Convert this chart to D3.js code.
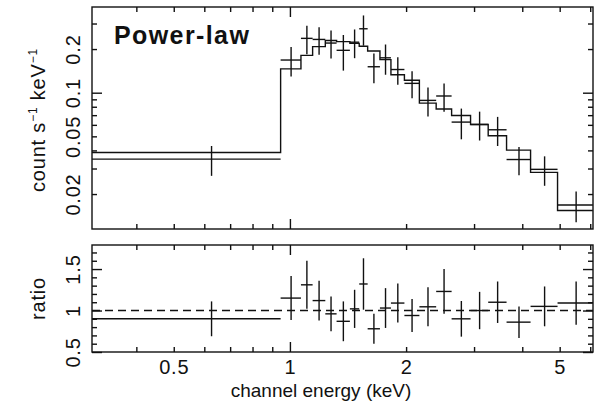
<!DOCTYPE html>
<html>
<head>
<meta charset="utf-8">
<script src="https://cdnjs.cloudflare.com/ajax/libs/d3/7.8.5/d3.min.js"></script>
<style>
  body { margin: 0; background: #fff; }
  text { font-family: "Liberation Sans", Arial, Helvetica, sans-serif; fill: #111; }
</style>
</head>
<body>
<div id="chart"></div>
<script>
// bin edges in keV (20 channels)
var eEdges = [0.307, 0.946, 1.068, 1.145, 1.235, 1.321, 1.430, 1.512, 1.590, 1.711, 1.827,
              1.980, 2.165, 2.393, 2.624, 2.938, 3.264, 3.642, 4.203, 4.937, 6.095];
// count s^-1 keV^-1
var rate    = [0.0348, 0.168, 0.237, 0.233, 0.220, 0.196, 0.223, 0.276, 0.151, 0.174,
               0.1445, 0.116, 0.0885, 0.0949, 0.0627, 0.0604, 0.0555, 0.0346, 0.0296, 0.0168];
var rateErr = [0.0081, 0.0387, 0.0525, 0.050, 0.048, 0.054, 0.050, 0.065, 0.035, 0.041,
               0.031, 0.0246, 0.020, 0.021, 0.015, 0.0136, 0.0126, 0.0076, 0.0068, 0.0040];
var model   = [0.0387, 0.146, 0.181, 0.208, 0.229, 0.225, 0.219, 0.209, 0.194, 0.169,
               0.133, 0.122, 0.0847, 0.0772, 0.0697, 0.0604, 0.0505, 0.0402, 0.0282, 0.0154];
var ratio    = [0.90, 1.15, 1.31, 1.12, 0.96, 0.87, 1.02, 1.32, 0.78, 1.03,
                1.09, 0.94, 1.045, 1.23, 0.90, 1.00, 1.10, 0.86, 1.05, 1.09];
var ratioErr = [0.21, 0.265, 0.29, 0.24, 0.21, 0.24, 0.23, 0.31, 0.18, 0.24,
                0.235, 0.20, 0.235, 0.27, 0.215, 0.225, 0.25, 0.19, 0.24, 0.26];

var xLabels = [0.5, 1, 2, 5];
var xMajor = [1];
var xMinor = [0.4, 0.5, 0.6, 0.7, 0.8, 0.9, 2, 3, 4, 5, 6];
var yLabels = [0.02, 0.05, 0.1, 0.2];
var yMajor = [0.1];
var yMinor = [0.02, 0.03, 0.04, 0.05, 0.06, 0.07, 0.08, 0.09, 0.2, 0.3];
var rLabels = [0.5, 1, 1.5];
var rMinor = [0.6, 0.7, 0.8, 0.9, 1.1, 1.2, 1.3, 1.4, 1.6, 1.7];

var width = 602, height = 409;
var left = 92, right = 593;
var top1 = 7, bot1 = 229, top2 = 245, bot2 = 352;
var lw = 1.4;

var svg = d3.select("#chart").append("svg")
    .attr("width", width)
    .attr("height", height);

var x = d3.scaleLog().domain([0.307, 6.1]).range([left, right]);
var y = d3.scaleLog().domain([0.01148, 0.39]).range([bot1, top1]);
var r = d3.scaleLinear().domain([0.5, 1.79]).range([bot2, top2]);

var bins = rate.map(function(d, i) {
  return {lo: eEdges[i], hi: eEdges[i + 1], mid: (eEdges[i] + eEdges[i + 1]) / 2,
          v: d, e: rateErr[i], m: model[i], rt: ratio[i], re: ratioErr[i]};
});

function ticks(g, axisFn, scale, vals, size, trans) {
  g.append("g")
    .attr("transform", trans)
    .call(axisFn(scale).tickValues(vals).tickSize(size).tickSizeOuter(0).tickFormat(""))
    .call(function(s) { s.select(".domain").remove(); })
    .selectAll("line").attr("stroke", "#111").attr("stroke-width", lw);
}

function frame(yScale, yMaj, yMin, t, b) {
  var g = svg.append("g");
  ticks(g, d3.axisBottom, x, xMajor, -10, "translate(0," + b + ")");
  ticks(g, d3.axisBottom, x, xMinor, -5, "translate(0," + b + ")");
  ticks(g, d3.axisTop, x, xMajor, -10, "translate(0," + t + ")");
  ticks(g, d3.axisTop, x, xMinor, -5, "translate(0," + t + ")");
  ticks(g, d3.axisLeft, yScale, yMaj, -10, "translate(" + left + ",0)");
  ticks(g, d3.axisLeft, yScale, yMin, -5, "translate(" + left + ",0)");
  ticks(g, d3.axisRight, yScale, yMaj, -10, "translate(" + right + ",0)");
  ticks(g, d3.axisRight, yScale, yMin, -5, "translate(" + right + ",0)");
  g.append("rect")
    .attr("x", left).attr("y", t)
    .attr("width", right - left).attr("height", b - t)
    .attr("fill", "none").attr("stroke", "#111").attr("stroke-width", lw);
}

function yTickLabels(yScale, vals) {
  svg.append("g")
    .attr("transform", "translate(" + left + ",0)")
    .call(d3.axisLeft(yScale).tickValues(vals).tickSize(0).tickFormat(function(d) { return String(d); }))
    .call(function(s) { s.select(".domain").remove(); })
    .selectAll("text")
      .attr("x", 0).attr("y", -12).attr("dy", 0)
      .attr("text-anchor", "middle")
      .attr("transform", "rotate(-90)")
      .style("font-size", "20px")
      .style("letter-spacing", "0.8px");
}

frame(y, yMajor, yMinor, top1, bot1);
frame(r, [0.5, 1, 1.5], rMinor, top2, bot2);

yTickLabels(y, yLabels);
yTickLabels(r, rLabels);

// x tick labels
svg.append("g")
  .attr("transform", "translate(0," + bot2 + ")")
  .call(d3.axisBottom(x).tickValues(xLabels).tickSize(0).tickFormat(function(d) { return String(d); }))
  .call(function(s) { s.select(".domain").remove(); })
  .selectAll("text")
    .attr("y", 22).attr("dy", 0)
    .style("font-size", "20px")
    .style("letter-spacing", "0.8px");

// model step line (top panel)
var stepPts = [];
bins.forEach(function(d) { stepPts.push([d.lo, d.m]); stepPts.push([d.hi, d.m]); });
svg.append("path")
  .datum(stepPts)
  .attr("fill", "none").attr("stroke", "#111").attr("stroke-width", lw)
  .attr("d", d3.line().x(function(p) { return x(p[0]); }).y(function(p) { return y(p[1]); }));

// data crosses (top panel)
var dataG = svg.append("g").attr("stroke", "#111").attr("stroke-width", lw);
dataG.selectAll(".hbar").data(bins).enter().append("line")
  .attr("x1", function(d) { return x(d.lo); })
  .attr("x2", function(d) { return x(d.hi); })
  .attr("y1", function(d) { return y(d.v); })
  .attr("y2", function(d) { return y(d.v); });
dataG.selectAll(".vbar").data(bins).enter().append("line")
  .attr("x1", function(d) { return x(d.mid); })
  .attr("x2", function(d) { return x(d.mid); })
  .attr("y1", function(d) { return y(d.v + d.e); })
  .attr("y2", function(d) { return y(d.v - d.e); });

// ratio panel
svg.append("line")
  .attr("x1", left).attr("x2", right)
  .attr("y1", r(1)).attr("y2", r(1))
  .attr("stroke", "#111").attr("stroke-width", lw)
  .attr("stroke-dasharray", "8,5");

var ratG = svg.append("g").attr("stroke", "#111").attr("stroke-width", lw);
ratG.selectAll(".hbar").data(bins).enter().append("line")
  .attr("x1", function(d) { return x(d.lo); })
  .attr("x2", function(d) { return x(d.hi); })
  .attr("y1", function(d) { return r(d.rt); })
  .attr("y2", function(d) { return r(d.rt); });
ratG.selectAll(".vbar").data(bins).enter().append("line")
  .attr("x1", function(d) { return x(d.mid); })
  .attr("x2", function(d) { return x(d.mid); })
  .attr("y1", function(d) { return r(d.rt + d.re); })
  .attr("y2", function(d) { return r(d.rt - d.re); });

// titles
svg.append("text")
  .attr("x", 114).attr("y", 44)
  .style("font-size", "25px").style("font-weight", "bold")
  .style("letter-spacing", "1.4px")
  .text("Power-law");

var yTitle = svg.append("text")
  .attr("transform", "translate(45," + ((top1 + bot1) / 2 + 2) + ") rotate(-90)")
  .attr("text-anchor", "middle")
  .style("font-size", "20px")
  .style("letter-spacing", "0.8px");
yTitle.append("tspan").text("count s");
yTitle.append("tspan").attr("dy", -8).style("font-size", "12px").text("\u22121");
yTitle.append("tspan").attr("dy", 8).text(" keV");
yTitle.append("tspan").attr("dy", -8).style("font-size", "12px").text("\u22121");

svg.append("text")
  .attr("transform", "translate(45," + ((top2 + bot2) / 2) + ") rotate(-90)")
  .attr("text-anchor", "middle")
  .style("font-size", "20px")
  .style("letter-spacing", "0.8px")
  .text("ratio");

svg.append("text")
  .attr("x", 321).attr("y", 397)
  .attr("text-anchor", "middle")
  .style("font-size", "19px")
  .text("channel energy (keV)");
</script>
</body>
</html>
